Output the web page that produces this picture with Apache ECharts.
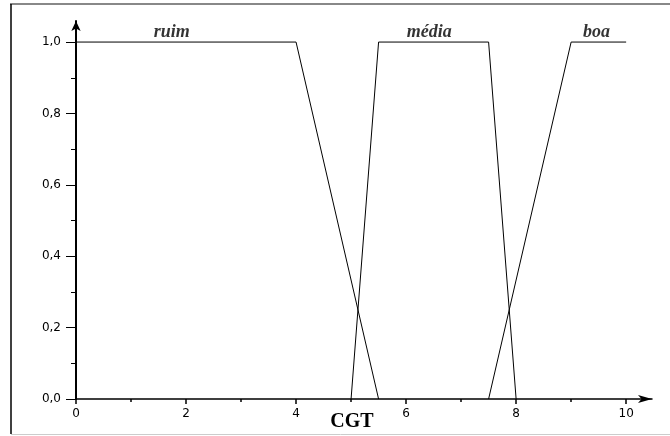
<!DOCTYPE html>
<html>
<head>
<meta charset="utf-8">
<script src="https://cdn.jsdelivr.net/npm/echarts@6/dist/echarts.min.js"></script>
<style>html,body{margin:0;padding:0;background:#fff}#c{width:670px;height:436px}</style>
</head>
<body>
<div id="c"></div>
<script>
// Data
var ruimX = [0, 4, 5.5];
var ruimY = [1, 1, 0];
var mediaX = [5, 5.5, 7.5, 8];
var mediaY = [0, 1, 1, 0];
var boaX = [7.5, 9, 10];
var boaY = [0, 1, 1];
var setNames = ['ruim', 'média', 'boa'];
var setLabelX = [1.74, 6.42, 9.46];
var setLabelY = [1, 1, 1];
var xTicks = [0, 2, 4, 6, 8, 10];
var xMinorTicks = [1, 3, 5, 7, 9];
var yTicks = [0, 0.2, 0.4, 0.6, 0.8, 1.0];
var yMinorTicks = [0.1, 0.3, 0.5, 0.7, 0.9];
var xTitle = 'CGT';

function zip(xs, ys) { return xs.map(function (x, i) { return [x, ys[i]]; }); }

var chart = echarts.init(document.getElementById('c'));
var lineStyle = { color: '#000', width: 1 };
var tickLabelStyle = { fontFamily: 'DejaVu Sans', fontSize: 12, color: '#000' };

chart.setOption({
  animation: false,
  backgroundColor: '#fff',
  grid: { left: 76, right: 18, top: 21, bottom: 37, containLabel: false, outerBoundsMode: 'none' },
  xAxis: [{
    type: 'value', min: 0, max: 10.47,
    axisLine: { show: true, symbol: ['none', 'arrow'], symbolSize: [6, 14], lineStyle: { color: '#000', width: 1.5 } },
    axisTick: { show: true, customValues: xTicks, length: 5, lineStyle: { color: '#000', width: 1.5 } },
    axisLabel: Object.assign({ customValues: xTicks, margin: 9, formatter: function (v) { return String(v); } }, tickLabelStyle),
    splitLine: { show: false },
    name: xTitle, nameLocation: 'middle', nameGap: 13, nameMoveOverlap: false,
    nameTextStyle: { fontFamily: 'Liberation Serif', fontWeight: 'bold', fontSize: 20, color: '#000', padding: [0, 24, 0, 0], verticalAlign: 'top' }
  }, {
    type: 'value', min: 0, max: 10.47, position: 'bottom',
    axisLine: { show: false },
    axisTick: { show: true, customValues: xMinorTicks, length: 3, lineStyle: { color: '#000', width: 1.5 } },
    axisLabel: { show: false },
    splitLine: { show: false }
  }],
  yAxis: [{
    type: 'value', min: 0, max: 1.059,
    axisLine: { show: true, symbol: ['none', 'arrow'], symbolSize: [7, 10], lineStyle: { color: '#000', width: 2 } },
    axisTick: { show: true, customValues: yTicks, length: 10, lineStyle: { color: '#000', width: 1 } },
    axisLabel: Object.assign({ customValues: yTicks, margin: 15, formatter: function (v) { return v.toFixed(1).replace('.', ','); } }, tickLabelStyle),
    splitLine: { show: false }
  }, {
    type: 'value', min: 0, max: 1.059, position: 'left',
    axisLine: { show: false },
    axisTick: { show: true, customValues: yMinorTicks, length: 5, lineStyle: { color: '#000', width: 1 } },
    axisLabel: { show: false },
    splitLine: { show: false }
  }],
  series: [
    { type: 'line', data: zip(ruimX, ruimY), showSymbol: false, lineStyle: lineStyle, silent: true },
    { type: 'line', data: zip(mediaX, mediaY), showSymbol: false, lineStyle: lineStyle, silent: true },
    { type: 'line', data: zip(boaX, boaY), showSymbol: false, lineStyle: lineStyle, silent: true },
    {
      type: 'scatter', symbolSize: 0, silent: true,
      data: setNames.map(function (n, i) { return { name: n, value: [setLabelX[i], setLabelY[i]] }; }),
      label: {
        show: true, position: 'top', distance: 1, formatter: '{b}',
        fontFamily: 'Liberation Serif', fontWeight: 'bold', fontStyle: 'italic', fontSize: 18, color: '#000'
      }
    }
  ],
  graphic: [
    { type: 'line', shape: { x1: 10, y1: 4, x2: 670, y2: 4 }, style: { stroke: '#888', lineWidth: 2 } },
    { type: 'line', shape: { x1: 11, y1: 4, x2: 11, y2: 434 }, style: { stroke: '#000', lineWidth: 1.5 } },
    { type: 'line', shape: { x1: 11, y1: 434.5, x2: 670, y2: 434.5 }, style: { stroke: '#ccc', lineWidth: 1 } }
  ]
});
</script>
</body>
</html>
